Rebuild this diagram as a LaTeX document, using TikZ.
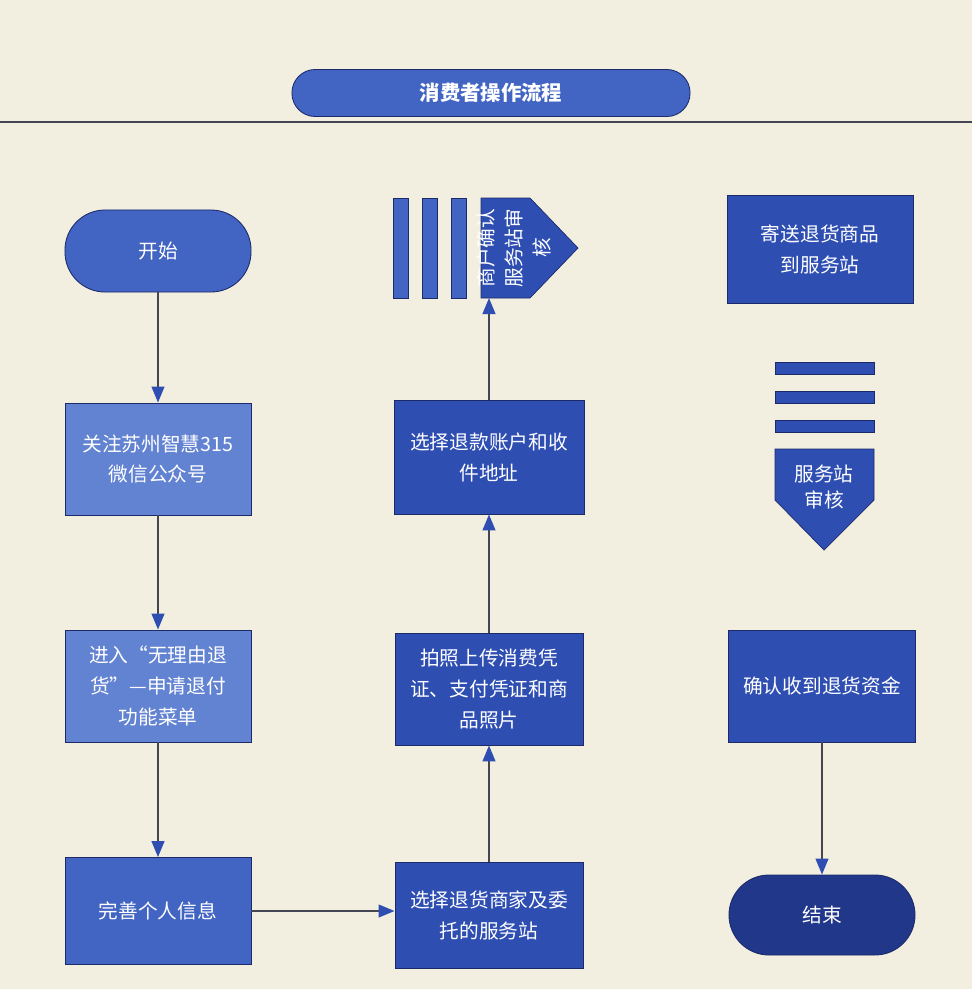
\documentclass[tikz,border=0pt]{standalone}
\usepackage{fontspec}
\setmainfont{Noto Sans CJK SC}
\usetikzlibrary{arrows.meta}
\usetikzlibrary{calc}
\definecolor{paper}{RGB}{243,239,224}
\definecolor{lightblue}{RGB}{98,130,210}
\definecolor{midblue}{RGB}{66,100,194}
\definecolor{deepblue}{RGB}{46,78,178}
\definecolor{navy}{RGB}{33,55,138}
\definecolor{rimblue}{RGB}{28,42,105}
\definecolor{linegray}{RGB}{68,70,84}

\begin{document}
\begin{tikzpicture}[x=0.025cm, y=-0.025cm,
box node/.style={shape=rectangle, fill=#1, draw=rimblue, line width=0.6pt, text=white, align=center, font=\fontsize{14}{22}\selectfont, minimum width=4.65cm, minimum height=2.8cm, inner sep=2pt},
end node/.style={box node=#1, rounded corners=1cm, minimum height=2.05cm},
flow/.style={draw=linegray, line width=1.3pt, -{Triangle[length=0.4cm,width=0.32cm,color=deepblue]}},
stripe/.style={fill=#1, draw=rimblue, line width=0.5pt},
]
	\fill[paper] (0,0) rectangle (972,989);
	\useasboundingbox (0,0) rectangle (972,989);
	
	%title
	\node[box node=midblue, rounded corners=0.58cm, minimum width=9.95cm, minimum height=1.175cm, font=\fontsize{14.5}{18}\selectfont\bfseries] (title) at (491,93){消费者操作流程};
	\coordinate (rulel) at (0,122);
	\coordinate (ruler) at (972,122);
	\draw[linegray, line width=1.2pt] (rulel) -- (ruler);
	
	%left column
	\node[end node=midblue] (start) at (158,251){开始};
	\node[box node=lightblue] (follow) at (158,459){关注苏州智慧315\\微信公众号};
	\node[box node=lightblue] (enter) at (158,686){进入“无理由退\\货”—申请退付\\功能菜单};
	\node[box node=midblue, minimum height=2.675cm] (info) at (158,911){完善个人信息};
	
	%middle column
	\node[box node=deepblue, minimum width=4.7cm, minimum height=2.65cm] (merchant) at (489,915){选择退货商家及委\\托的服务站};
	\node[box node=deepblue, minimum width=4.7cm] (photo) at (489,689){拍照上传消费凭\\证、支付凭证和商\\品照片};
	\node[box node=deepblue, minimum width=4.75cm, minimum height=2.85cm] (account) at (489,457){选择退款账户和收\\件地址};
	\foreach \x in {393,422,451}
	{
		\filldraw[stripe=midblue] (\x,198) rectangle ++(15,100);
	}
	\filldraw[stripe=deepblue] (481,198) -- (530,198) -- (578,248) -- (530,298) -- (481,298) -- cycle;
	\node[rotate=90, text=white, align=center, font=\fontsize{14}{20}\selectfont, inner sep=0] (check) at (514,248){商户确认\\服务站审\\核};
	\coordinate (checkin) at (489,298);
	
	%right column
	\node[box node=deepblue, minimum height=2.7cm] (ship) at (820,249){寄送退货商品\\到服务站};
	\foreach \y in {362,391,420}
	{
		\filldraw[stripe=deepblue] (775,\y) rectangle ++(99,12);
	}
	\filldraw[stripe=deepblue] (775,449) -- (874,449) -- (874,500) -- (824,550) -- (775,500) -- cycle;
	\node[text=white, align=center, font=\fontsize{14}{19}\selectfont, inner sep=0] (audit) at (824,487){服务站\\审核};
	\node[box node=deepblue, minimum width=4.675cm] (receive) at (822,686){确认收到退货资金};
	\node[end node=navy, minimum height=2.0cm] (finish) at (822,915){结束};
	
	%arrows
	\draw[flow] (start) -- (follow);
	\draw[flow] (follow) -- (enter);
	\draw[flow] (enter) -- (info);
	\draw[flow] (info.east) -- (info.east -| merchant.west);
	\draw[flow] (merchant) -- (photo);
	\draw[flow] (photo) -- (account);
	\draw[flow] (account) -- (checkin);
	\draw[flow] (receive) -- (finish);
\end{tikzpicture}
\end{document}
